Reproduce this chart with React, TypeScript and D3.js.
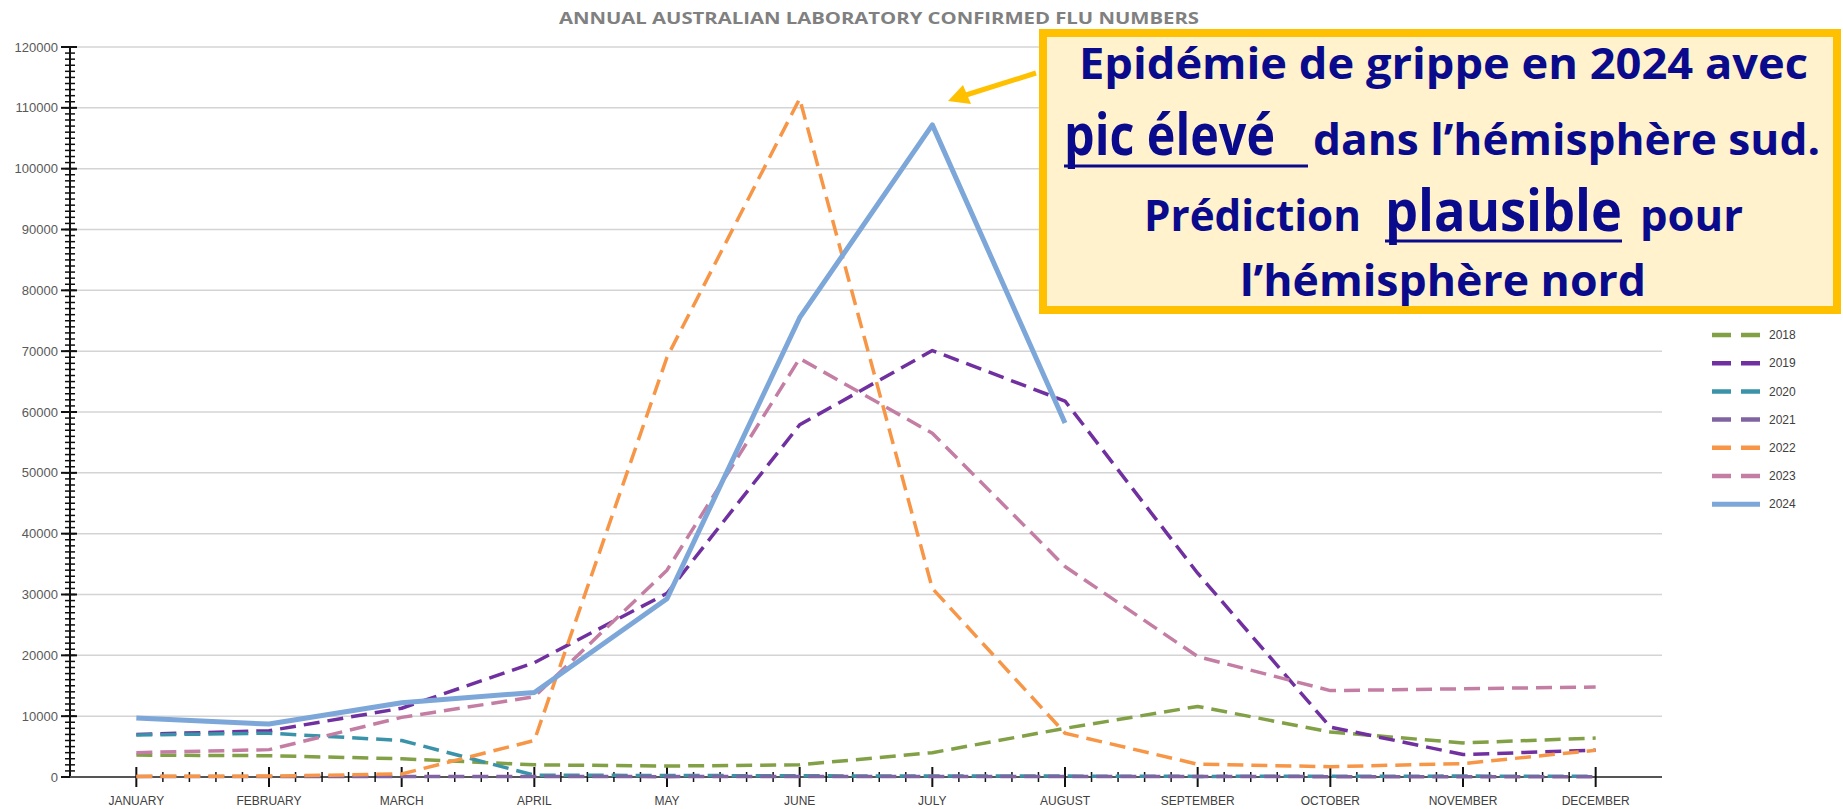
import React from "react";
import * as d3 from "d3";

const months = [
	"JANUARY", "FEBRUARY", "MARCH", "APRIL", "MAY", "JUNE",
	"JULY", "AUGUST", "SEPTEMBER", "OCTOBER", "NOVEMBER", "DECEMBER",
];
const years = ["2018", "2019", "2020", "2021", "2022", "2023", "2024"];

// monthly confirmed cases
const flu2018 = [3600, 3500, 3000, 2000, 1800, 2000, 4000, 8000, 11600, 7400, 5600, 6400];
const flu2019 = [7000, 7600, 11300, 18800, 30200, 57900, 70100, 61800, 33500, 8200, 3700, 4400];
const flu2020 = [6900, 7200, 6000, 300, 250, 200, 150, 150, 100, 120, 150, 100];
const flu2021 = [100, 80, 90, 70, 60, 80, 100, 90, 70, 60, 50, 40];
const flu2022 = [100, 150, 500, 6000, 69000, 111500, 31000, 7200, 2100, 1700, 2200, 4400];
const flu2023 = [4000, 4500, 9800, 13200, 34000, 68800, 56500, 34600, 19800, 14200, 14500, 14800];
const flu2024 = [9700, 8700, 12200, 13900, 29300, 75500, 107200, 58200, null, null, null, null];

const yTicks = [0, 10000, 20000, 30000, 40000, 50000, 60000, 70000, 80000, 90000, 100000, 110000, 120000];

const seriesData = [flu2018, flu2019, flu2020, flu2021, flu2022, flu2023, flu2024];
const seriesColors = ["#82a046", "#7030a0", "#3a93a8", "#8064a2", "#f79646", "#c47ea4", "#7da7d9"];

const W = 1843;
const H = 809;
const plot = {left: 70, right: 1662, top: 47, bottom: 777};

const boxFont = "'Open Sans', 'Noto Sans', sans-serif";
const boxColor = "#0a0a8c";

export default function App() {
	const x = d3.scalePoint<string>().domain(months).range([plot.left, plot.right]).padding(0.5);
	const y = d3.scaleLinear().domain([0, 120000]).range([plot.bottom, plot.top]);
	const step = x.step();

	const line = d3
		.line<number | null>()
		.defined((d) => d != null)
		.x((_, i) => x(months[i]) as number)
		.y((d) => y(d as number));

	const yMinor = d3.range(0, 120001, 1000);
	const xMinor: number[] = [];
	months.slice(0, -1).forEach((m) => {
		for (let k = 1; k < 5; k++) xMinor.push((x(m) as number) + (step * k) / 5);
	});

	return (
		<svg width={W} height={H} style={{position: "absolute", left: 0, top: 0, background: "#fff"}}>
			{/* Title */}
			<text x={559} y={24} textLength={640} lengthAdjust="spacingAndGlyphs"
				style={{fontFamily: "'Open Sans', sans-serif", fontWeight: 700, fontSize: 16, fill: "#808080"}}>
				ANNUAL AUSTRALIAN LABORATORY CONFIRMED FLU NUMBERS
			</text>

			{/* Gridlines */}
			{yTicks.slice(1).map((t) => (
				<line key={t} x1={plot.left} x2={plot.right} y1={y(t)} y2={y(t)} stroke="#d4d4d4" strokeWidth={1.5} />
			))}

			{/* Y axis */}
			<line x1={plot.left} x2={plot.left} y1={plot.top} y2={plot.bottom} stroke="#111" strokeWidth={2} />
			{yMinor.map((t) => (
				<line key={"ym" + t} x1={plot.left - 5} x2={plot.left + 5} y1={y(t)} y2={y(t)} stroke="#111" strokeWidth={1.5} />
			))}
			{yTicks.map((t) => (
				<g key={"yt" + t}>
					<line x1={plot.left - 9} x2={plot.left + 7} y1={y(t)} y2={y(t)} stroke="#111" strokeWidth={2} />
					<text x={plot.left - 12} y={y(t)} dy="0.35em" textAnchor="end"
						style={{fontFamily: "'Liberation Sans', sans-serif", fontSize: 13, fill: "#595959"}}>
						{t}
					</text>
				</g>
			))}

			{/* X axis */}
			<line x1={plot.left} x2={plot.right} y1={plot.bottom} y2={plot.bottom} stroke="#555" strokeWidth={2} />
			{xMinor.map((p, i) => (
				<line key={"xm" + i} x1={p} x2={p} y1={plot.bottom - 5} y2={plot.bottom + 5} stroke="#111" strokeWidth={1.5} />
			))}
			{months.map((m) => (
				<g key={m}>
					<line x1={x(m)} x2={x(m)} y1={plot.bottom - 10} y2={plot.bottom + 10} stroke="#111" strokeWidth={2} />
					<text x={x(m)} y={805} textAnchor="middle"
						style={{fontFamily: "'Liberation Sans', sans-serif", fontSize: 12, fill: "#404040"}}>
						{m}
					</text>
				</g>
			))}

			{/* Series */}
			{seriesData.map((s, i) => (
				<path key={years[i]} d={line(s) || ""} fill="none" stroke={seriesColors[i]}
					strokeWidth={i === 6 ? 5 : 3.5} strokeDasharray={i === 6 ? undefined : "16,8"}
					strokeLinejoin="round" />
			))}

			{/* Legend */}
			{years.map((yr, i) => {
				const ly = 335 + i * 28.2;
				return (
					<g key={"lg" + yr}>
						<line x1={1712} x2={1760} y1={ly} y2={ly} stroke={seriesColors[i]}
							strokeWidth={i === 6 ? 5 : 4.5} strokeDasharray={i === 6 ? undefined : "19,10"} />
						<text x={1769} y={ly} dy="0.35em"
							style={{fontFamily: "'Liberation Sans', sans-serif", fontSize: 12, fill: "#404040"}}>
							{yr}
						</text>
					</g>
				);
			})}

			{/* Annotation box */}
			<rect x={1043} y={33} width={794} height={277} fill="#fff2cc" stroke="#ffc000" strokeWidth={8} />
			<g style={{fontFamily: boxFont, fontWeight: 700, fill: boxColor}}>
				<text x={1079} y={79} fontSize={43} textLength={729} lengthAdjust="spacingAndGlyphs">
					Epidémie de grippe en 2024 avec
				</text>
				<text x={1064} y={155} fontSize={58} textLength={211} lengthAdjust="spacingAndGlyphs">
					pic élevé
				</text>
				<text x={1313} y={155} fontSize={43} textLength={507} lengthAdjust="spacingAndGlyphs">
					dans l’hémisphère sud.
				</text>
				<text x={1144} y={231} fontSize={43} textLength={217} lengthAdjust="spacingAndGlyphs">
					Prédiction
				</text>
				<text x={1385} y={231} fontSize={58} textLength={237} lengthAdjust="spacingAndGlyphs">
					plausible
				</text>
				<text x={1640} y={231} fontSize={43} textLength={103} lengthAdjust="spacingAndGlyphs">
					pour
				</text>
				<text x={1240} y={296} fontSize={43} textLength={406} lengthAdjust="spacingAndGlyphs">
					l’hémisphère nord
				</text>
			</g>
			<line x1={1064} x2={1308} y1={166} y2={166} stroke={boxColor} strokeWidth={3} />
			<line x1={1385} x2={1622} y1={241} y2={241} stroke={boxColor} strokeWidth={3} />

			{/* Arrow */}
			<line x1={1036} y1={73} x2={966} y2={95} stroke="#ffc000" strokeWidth={5} />
			<path d="M948,101 L963,85 L971,104 Z" fill="#ffc000" />
		</svg>
	);
}
